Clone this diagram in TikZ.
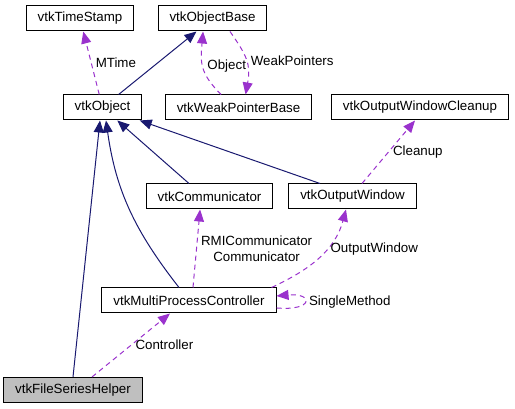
\documentclass[tikz,border=0pt]{standalone}
\usepackage{fontspec}
\setmainfont{Liberation Sans}
\usetikzlibrary{positioning}
\usetikzlibrary{arrows.meta}
\definecolor{inhcol}{HTML}{191970}
\definecolor{usecol}{HTML}{9A32CD}
\definecolor{curcol}{HTML}{BFBFBF}

\begin{document}
\begin{tikzpicture}[x=0.75pt,y=0.75pt,on grid,
      every node/.style={font=\fontsize{10}{12}\selectfont},
      cls/.style={draw=black, line width=0.75pt, rectangle, minimum height=18.75pt, inner xsep=8.6pt, inner ysep=0pt},
      inh/.style={draw=inhcol, line width=0.75pt, -{Triangle[length=9pt,width=7.5pt]}},
      use/.style={draw=usecol, line width=0.75pt, dash pattern=on 3.75pt off 3pt, -{Triangle[length=9pt,width=7.5pt]}},
      lbl/.style={inner sep=3pt, align=center}]

      \useasboundingbox (0,0) rectangle (515,-409);

      \node[cls] (ts) at (80,-18.5) {vtkTimeStamp};
      \node[cls] (base) [right=99.4pt of ts] {vtkObjectBase};

      \node[cls] (obj) [below right=66.75pt and 16.9pt of ts] {vtkObject};
      \node[cls] (weak) [below right=66.75pt and 19.5pt of base] {vtkWeakPointerBase};
      \node[cls] (cleanup) [right=136.1pt of weak] {vtkOutputWindowCleanup};

      \node[cls] (comm) [below right=66.75pt and 80.25pt of obj] {vtkCommunicator};
      \node[cls] (outwin) [right=107.25pt of comm] {vtkOutputWindow};

      \node[cls] (mpc) [below left=78pt and 15.4pt of comm] {vtkMultiProcessController};
      \node[cls, fill=curcol] (fsh) [below left=67.1pt and 87pt of mpc] {vtkFileSeriesHelper};

      % inheritance
      \path
        (obj) edge [inh] node[] {} (base)
        ([xshift=-15.4pt]comm.north) edge [inh] node[] {} (obj)
        ([xshift=-24.4pt]outwin.north) edge [inh] node[] {} (obj)
        ([xshift=-7.5pt]mpc.north) edge [inh, out=128, in=-82] node[] {} ([xshift=2.6pt]obj.south)
        (fsh.north) edge [inh] node[] {} ([xshift=-1.9pt]obj.south)
        ;

      % usage
      \path
        (obj) edge [use] node[lbl, right] {MTime} (ts)
        ([xshift=-13.1pt]weak.north) edge [use, out=135, in=-95, looseness=1.2] node[lbl, right] {Object} ([xshift=-7.1pt]base.south)
        ([xshift=13.1pt]base.south) edge [use, out=-55, in=80, looseness=1.2] node[lbl, right] {WeakPointers} ([xshift=5.3pt]weak.north)
        ([xshift=7.1pt]outwin.north) edge [use] node[lbl, right] {Cleanup} ([xshift=-3.75pt]cleanup.south)
        ([xshift=3pt]mpc.north) edge [use] node[lbl, right] {RMICommunicator\\Communicator} ([xshift=-7.1pt]comm.south)
        ([xshift=-3.75pt]mpc.north east) edge [use, out=25, in=-105] node[lbl, right, pos=0.6] {OutputWindow} ([xshift=-4.9pt]outwin.south)
        ([yshift=-5.6pt]mpc.east) edge [use, out=-5, in=5, looseness=8] node[lbl, right] {SingleMethod} ([yshift=3.4pt]mpc.east)
        ([xshift=14.25pt]fsh.north) edge [use] node[lbl, right] {Controller} ([xshift=-14.25pt]mpc.south)
        ;

    \end{tikzpicture}
\end{document}
